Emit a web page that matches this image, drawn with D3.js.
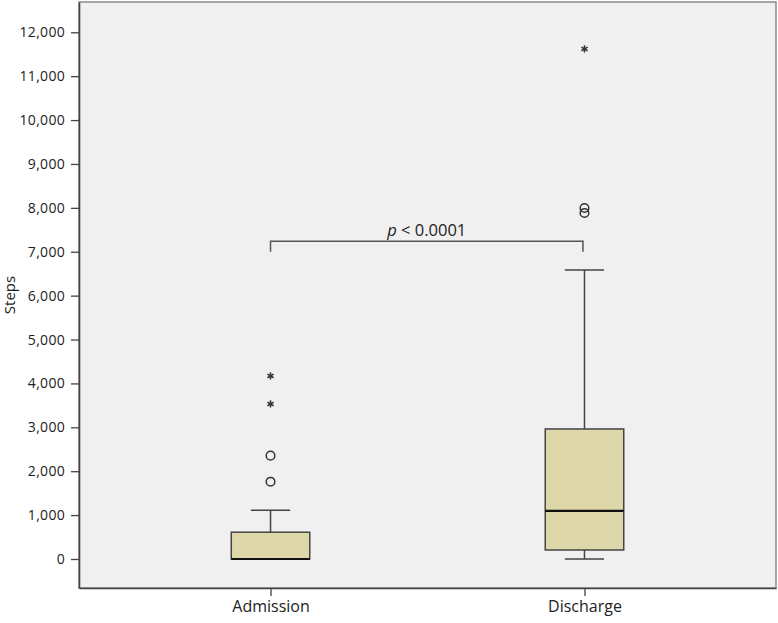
<!DOCTYPE html>
<html>
<head>
<meta charset="utf-8">
<script src="https://cdn.jsdelivr.net/npm/d3@7"></script>
<style>
  body { margin: 0; background: #fff; }
  text { font-family: "Open Sans", sans-serif; fill: #222; }
</style>
</head>
<body>
<svg id="chart"></svg>
<script>
const width = 778;
const height = 623;
const margin = {top: 2, right: 2, bottom: 35, left: 79};

// data
const groups = ["Admission", "Discharge"];
const whiskerLow = [0, 0];
const q1 = [0, 205];
const median = [0, 1094];
const q3 = [610, 2962];
const whiskerHigh = [1110, 6585];
const outliers = [[1761, 2354], [7883, 7997]];
const extremes = [[3532, 4170], [11620]];
const yTicks = [0, 1000, 2000, 3000, 4000, 5000, 6000, 7000, 8000, 9000, 10000, 11000, 12000];
const bracketValue = 7240;
const bracketDrop = 7000;
const pLabel = "< 0.0001";

const svg = d3.select("#chart")
    .attr("width", width)
    .attr("height", height);

const x = d3.scalePoint()
    .domain(groups)
    .range([margin.left, width - margin.right])
    .padding(0.61);

const y = d3.scaleLinear()
    .domain([-661, 12690])
    .range([height - margin.bottom, margin.top]);

const step = x.step();
const boxW = step * 0.25;
const capW = boxW / 2;

// plot background
svg.append("rect")
    .attr("x", margin.left)
    .attr("y", margin.top)
    .attr("width", width - margin.left - margin.right)
    .attr("height", height - margin.top - margin.bottom)
    .attr("fill", "#f0f0f0")
    .attr("stroke", "#8a8a8a")
    .attr("stroke-width", 1.5);

// axes
const yAxis = svg.append("g")
    .attr("transform", `translate(${margin.left},0)`)
    .call(d3.axisLeft(y).tickValues(yTicks).tickSize(8).tickSizeOuter(0).tickPadding(6).tickFormat(d3.format(",")));

const xAxis = svg.append("g")
    .attr("transform", `translate(0,${height - margin.bottom})`)
    .call(d3.axisBottom(x).tickSize(8).tickSizeOuter(0).tickPadding(5));

yAxis.selectAll("text").attr("font-size", 14).attr("fill", "#333").attr("letter-spacing", 0.3);
xAxis.selectAll("text").attr("font-size", 16).attr("fill", "#222");
[yAxis, xAxis].forEach(g => {
    g.select(".domain").attr("stroke", "#444").attr("stroke-width", 1.6);
    g.selectAll(".tick line").attr("stroke", "#444").attr("stroke-width", 1.3);
    g.selectAll("text").attr("font-family", "Open Sans, sans-serif");
});

svg.append("text")
    .attr("transform", `translate(15,${(margin.top + height - margin.bottom) / 2}) rotate(-90)`)
    .attr("text-anchor", "middle")
    .attr("font-size", 15)
    .text("Steps");

// boxes
groups.forEach((g, i) => {
    const cx = x(g);
    const box = svg.append("g");

    box.append("line")
        .attr("x1", cx).attr("x2", cx)
        .attr("y1", y(whiskerLow[i])).attr("y2", y(q1[i]))
        .attr("stroke", "#444").attr("stroke-width", 1.5);
    box.append("line")
        .attr("x1", cx).attr("x2", cx)
        .attr("y1", y(q3[i])).attr("y2", y(whiskerHigh[i]))
        .attr("stroke", "#444").attr("stroke-width", 1.5);
    [whiskerLow[i], whiskerHigh[i]].forEach(v => {
        box.append("line")
            .attr("x1", cx - capW / 2).attr("x2", cx + capW / 2)
            .attr("y1", y(v)).attr("y2", y(v))
            .attr("stroke", "#444").attr("stroke-width", 1.5);
    });

    box.append("rect")
        .attr("x", cx - boxW / 2)
        .attr("y", y(q3[i]))
        .attr("width", boxW)
        .attr("height", y(q1[i]) - y(q3[i]))
        .attr("fill", "#ddd7a9")
        .attr("stroke", "#444")
        .attr("stroke-width", 1.5);

    box.append("line")
        .attr("x1", cx - boxW / 2).attr("x2", cx + boxW / 2)
        .attr("y1", y(median[i])).attr("y2", y(median[i]))
        .attr("stroke", "#111").attr("stroke-width", 2.2);

    outliers[i].forEach(v => {
        box.append("circle")
            .attr("cx", cx).attr("cy", y(v)).attr("r", 4.3)
            .attr("fill", "none").attr("stroke", "#333").attr("stroke-width", 1.5);
    });

    extremes[i].forEach(v => {
        box.append("path")
            .attr("transform", `translate(${cx},${y(v)})`)
            .attr("d", d3.symbol(d3.symbolAsterisk, 36)())
            .attr("fill", "none").attr("stroke", "#333").attr("stroke-width", 1.5);
    });
});

// significance bracket
const bx1 = x(groups[0]);
const bx2 = x(groups[1]) - 1.5;
svg.append("path")
    .attr("d", `M${bx1},${y(bracketDrop)}V${y(bracketValue)}H${bx2}V${y(bracketDrop)}`)
    .attr("fill", "none")
    .attr("stroke", "#555")
    .attr("stroke-width", 1.5);

const pText = svg.append("text")
    .attr("x", (bx1 + bx2) / 2)
    .attr("y", y(bracketValue) - 5)
    .attr("text-anchor", "middle")
    .attr("font-size", 16.5);
pText.append("tspan").attr("font-style", "italic").text("p");
pText.append("tspan").text(" " + pLabel);
</script>
</body>
</html>
